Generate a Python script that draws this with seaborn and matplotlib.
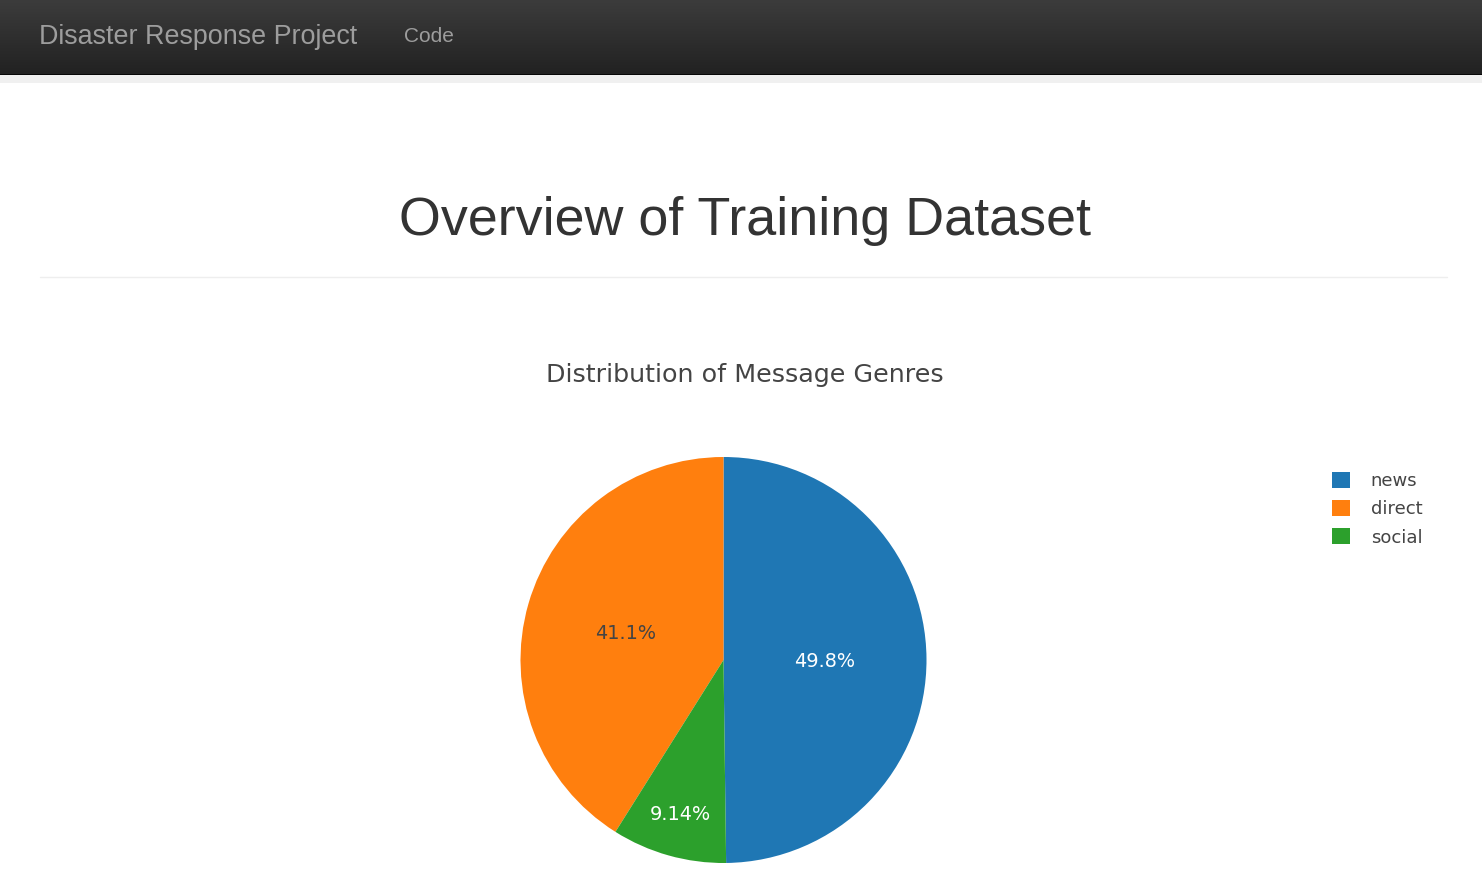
import numpy as np
import matplotlib
matplotlib.use("Agg")
import matplotlib.pyplot as plt
import seaborn as sns
from matplotlib.colors import LinearSegmentedColormap

# ---- data ----
genres = ["news", "direct", "social"]
counts = [13054, 10766, 2396]
page_title = "Overview of Training Dataset"
chart_title = "Distribution of Message Genres"
brand = "Disaster Response Project"
nav_link = "Code"

sns.set_theme(style="white")
plt.rcParams['font.family'] = ['DejaVu Sans']

W, H = 1482, 881
fig = plt.figure(figsize=(W / 100, H / 100), dpi=100)
fig.patch.set_facecolor("white")

def fx(px):
    return px / W

def fy(py):
    return 1 - py / H

# ---- navbar ----
nav = fig.add_axes([0, fy(74), 1, 74 / H])
grad = np.linspace(0, 1, 100).reshape(-1, 1)
cmap = LinearSegmentedColormap.from_list("nav", ["#3c3c3c", "#222222"])
nav.imshow(grad, aspect="auto", cmap=cmap, extent=[0, 1, 0, 1], origin="upper")
nav.set_xlim(0, 1)
nav.set_ylim(0, 1)
nav.axis("off")
fig.add_artist(plt.Rectangle((0, fy(75)), 1, 1.2 / H, transform=fig.transFigure,
                             color="#080808", lw=0))
fig.add_artist(plt.Rectangle((0, fy(83)), 1, 8 / H, transform=fig.transFigure,
                             color="#f0f0f0", lw=0))
fig.text(fx(39), fy(37), brand, color="#9d9d9d", fontsize=19.4,
         family="Liberation Sans", va="center", ha="left")
fig.text(fx(404), fy(37), nav_link, color="#9d9d9d", fontsize=15,
         family="Liberation Sans", va="center", ha="left")

# ---- heading ----
fig.text(fx(744.5), fy(221), page_title, color="#333333", fontsize=38.8,
         family="Liberation Sans", va="center", ha="center")
fig.add_artist(plt.Line2D([fx(40), fx(1447)], [fy(277.5), fy(277.5)],
                          transform=fig.transFigure, color="#eeeeee", lw=1))

# ---- chart title ----
fig.text(fx(744.5), fy(375), chart_title, color="#444444", fontsize=18.3,
         va="center", ha="center")

# ---- pie ----
cx, cy, r = 723.5, 660, 203
ax = fig.add_axes([fx(cx - r), fy(cy + r), 2 * r / W, 2 * r / H])
colors = sns.color_palette("tab10", 3)
total = sum(counts)
start = 90 - 360 * counts[0] / total
wedges, texts, autotexts = ax.pie(
    counts, colors=colors, startangle=start, counterclock=True,
    autopct=lambda p: f"{p:.3g}%", pctdistance=0.5,
    wedgeprops=dict(linewidth=0), textprops=dict(fontsize=13.9))
ax.set_xlim(-1, 1)
ax.set_ylim(-1, 1)
ax.set_aspect("auto")
ax.axis("off")
label_colors = ["white", "#444444", "white"]
dists = [0.5, 0.5, 0.78]
for w, t, c, d in zip(wedges, autotexts, label_colors, dists):
    t.set_color(c)
    ang = np.deg2rad((w.theta1 + w.theta2) / 2)
    t.set_position((d * np.cos(ang), d * np.sin(ang) - 0.01))

# ---- legend ----
fig.legend(wedges, genres, loc="upper left",
           bbox_to_anchor=(fx(1332), fy(471.5)), frameon=False,
           fontsize=13, handlelength=1.0, handleheight=1.0,
           handletextpad=1.15, labelspacing=0.56, borderpad=0,
           borderaxespad=0, labelcolor="#444444")

fig.savefig("out.png", dpi=100, facecolor="white")
